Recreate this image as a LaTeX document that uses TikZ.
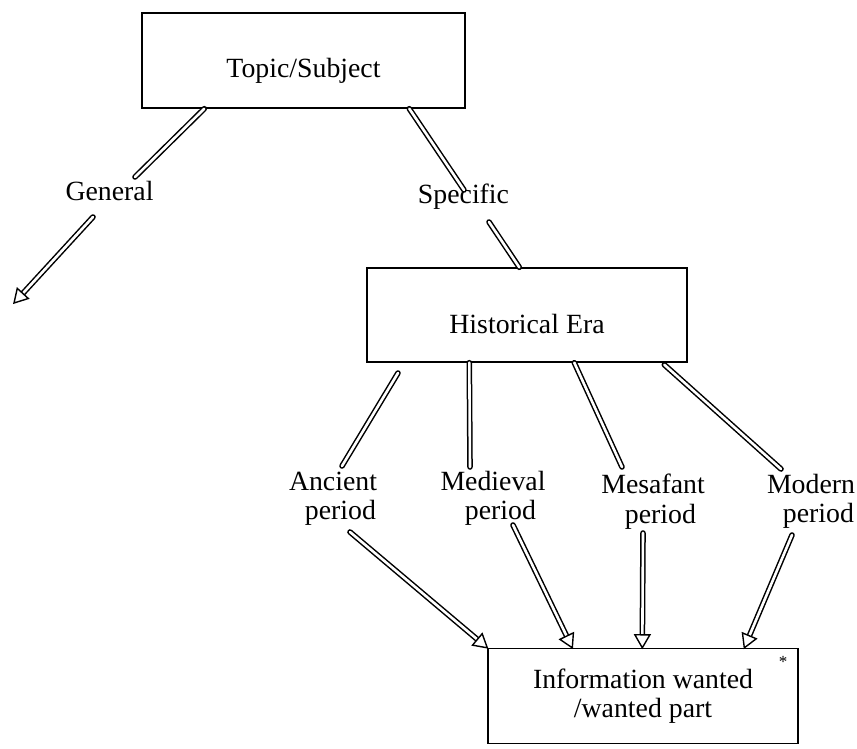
\documentclass[tikz,border=0pt]{standalone}
\usepackage{fontspec}
\setmainfont{Liberation Serif}
\usetikzlibrary{calc}

\tikzset{
  box/.style={draw, line width=1.4pt, inner sep=0pt, align=center},
  lbl/.style={inner sep=0pt, align=center},
  dbl/.style={draw, line width=1.5pt, double=white, double distance=2.6pt, line cap=round},
  tiphead/.style={draw, line width=1.4pt, fill=white, line join=miter},
}

% hollow double-shafted arrow from #1 to the tip at #2
\newcommand\hollowarrow[2]{%
  \path ($(#2)!13pt!(#1)$) coordinate (hb);
  \draw[dbl] (#1) -- (hb);
  \draw[tiphead] (#2) -- ($(hb)!7.5pt!90:(#2)$) -- ($(hb)!7.5pt!-90:(#2)$) -- cycle;}

% second line of a period label, set a little to the right
\newcommand\perline{\hspace*{15pt}period}

\begin{document}
\begin{tikzpicture}[x=1pt, y=-1pt, font=\fontsize{27.8}{29.5}\selectfont]
\useasboundingbox (0,0) rectangle (857,748);

% boxes
\node[box, minimum width=323pt, minimum height=95pt, text height=33pt, text depth=0pt]
  (topic) at (303.5,60.5) {Topic/Subject};
\node[box, minimum width=320pt, minimum height=94pt, text height=36pt, text depth=0pt]
  (era) at (527,315) {Historical Era};
\node[box, minimum width=310pt, minimum height=95pt]
  (info) at (643,696) {Information wanted\\/wanted part};
\node[lbl, font=\fontsize{17}{17}\selectfont] (star) at (783,662) {*};

% labels
\node[lbl, anchor=base] (general) at (109.5,200) {General};
\node[lbl, anchor=base] (specific) at (463.5,203) {Specific};
\node[lbl] (ancient)  at (333,498.5) {Ancient\\\perline};
\node[lbl] (medieval) at (493,498.5) {Medieval\\\perline};
\node[lbl] (mesafant) at (653,501.5) {Mesafant\\\perline};
\node[lbl] (modern)   at (811,501.5) {Modern\\\perline};

% connector end points
\coordinate (t-g)  at ($(topic.south west)+(63,0)$);
\coordinate (g-in) at (135,177);
\coordinate (g-out) at (93,217);
\coordinate (g-tip) at (14,303);
\coordinate (t-s)  at ($(topic.south west)+(268,0)$);
\coordinate (s-in) at (464,190);
\coordinate (s-out) at (489,222);
\coordinate (e-s)  at ($(era.north west)+(153,0)$);
\coordinate (e-an) at (398,373);
\coordinate (an-in) at (342,466);
\coordinate (e-me) at ($(era.south west)+(103,0)$);
\coordinate (me-in) at (470,467);
\coordinate (e-ms) at ($(era.south west)+(208,0)$);
\coordinate (ms-in) at (622,467);
\coordinate (e-mo) at ($(era.south west)+(298,2)$);
\coordinate (mo-in) at (781,469);
\coordinate (an-out) at (350,532);
\coordinate (me-out) at (513,525);
\coordinate (ms-out) at (643,533);
\coordinate (mo-out) at (792,535);
\coordinate (i-an) at (info.north west);
\coordinate (i-me) at ($(info.north west)+(85,0)$);
\coordinate (i-ms) at ($(info.north west)+(155,0)$);
\coordinate (i-mo) at ($(info.north west)+(257,0)$);

% connectors
\draw[dbl] (t-g) -- (g-in);
\hollowarrow{g-out}{g-tip}
\draw[dbl] (t-s) -- (s-in);
\draw[dbl] (s-out) -- (e-s);
\draw[dbl] (e-an) -- (an-in);
\draw[dbl] (e-me) -- (me-in);
\draw[dbl] (e-ms) -- (ms-in);
\draw[dbl] (e-mo) -- (mo-in);
\hollowarrow{an-out}{i-an}
\hollowarrow{me-out}{i-me}
\hollowarrow{ms-out}{i-ms}
\hollowarrow{mo-out}{i-mo}
\end{tikzpicture}
\end{document}
